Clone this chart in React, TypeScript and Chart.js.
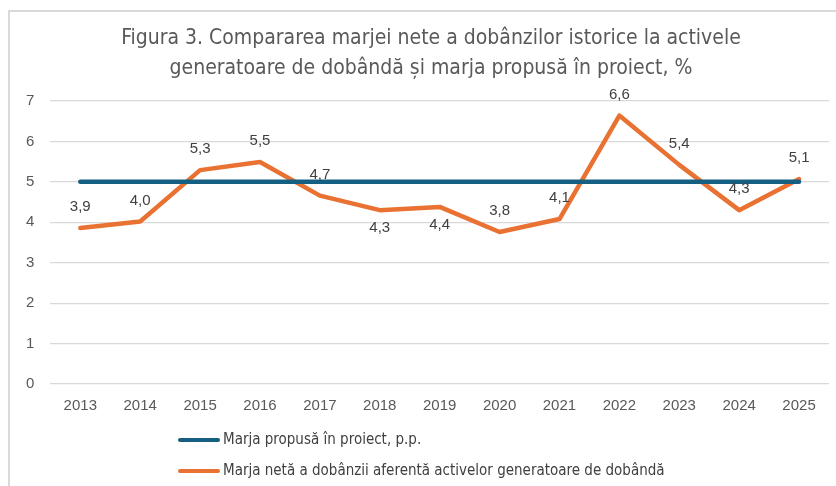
import React, { useEffect, useRef } from "react";
import { Chart, registerables } from "chart.js";

Chart.register(...registerables);

const years = ["2013", "2014", "2015", "2016", "2017", "2018", "2019", "2020", "2021", "2022", "2023", "2024", "2025"];
const proposedMargin = [5, 5, 5, 5, 5, 5, 5, 5, 5, 5, 5, 5, 5];
const netMargin = [3.86, 4.02, 5.29, 5.49, 4.66, 4.3, 4.38, 3.76, 4.08, 6.64, 5.42, 4.3, 5.07];
const labelBelow = [false, false, false, false, false, true, true, false, false, false, false, false, false];

const titleLines = [
  "Figura 3. Compararea marjei nete a dobânzilor istorice la activele",
  "generatoare de dobândă și marja propusă în proiect, %",
];
const seriesNames = [
  "Marja propusă în proiect, p.p.",
  "Marja netă a dobânzii aferentă activelor generatoare de dobândă",
];

const BLUE = "#156082";
const ORANGE = "#E97132";
const NARROW = "'Liberation Sans Narrow', 'DejaVu Sans Condensed', 'Liberation Sans', sans-serif";
const SANS = "'Liberation Sans', Arial, sans-serif";

const framePlugin = {
  id: "frame",
  beforeDraw(chart: any) {
    const ctx = chart.ctx;
    ctx.save();
    ctx.fillStyle = "#ffffff";
    ctx.fillRect(0, 0, chart.width, chart.height);
    ctx.strokeStyle = "#D9D9D9";
    ctx.lineWidth = 2;
    ctx.beginPath();
    ctx.moveTo(9, chart.height);
    ctx.lineTo(9, 11);
    ctx.lineTo(chart.width, 11);
    ctx.stroke();
    ctx.restore();
  },
};

const titlePlugin = {
  id: "customTitle",
  afterDraw(chart: any) {
    const ctx = chart.ctx;
    ctx.save();
    ctx.font = `21px ${NARROW}`;
    ctx.fillStyle = "#595959";
    ctx.textAlign = "center";
    ctx.textBaseline = "middle";
    titleLines.forEach((line, i) => {
      ctx.fillText(line, 431, 39 + i * 30);
    });
    ctx.restore();
  },
};

const labelsPlugin = {
  id: "pointLabels",
  afterDatasetsDraw(chart: any) {
    const ctx = chart.ctx;
    const meta = chart.getDatasetMeta(1);
    const data = chart.data.datasets[1].data as number[];
    ctx.save();
    ctx.font = `15px ${SANS}`;
    ctx.fillStyle = "#404040";
    ctx.textAlign = "center";
    ctx.textBaseline = "middle";
    meta.data.forEach((pt: any, i: number) => {
      const txt = data[i].toFixed(1).replace(".", ",");
      const y = labelBelow[i] ? pt.y + 18 : pt.y - 21;
      ctx.fillText(txt, pt.x, y);
    });
    ctx.restore();
  },
};

const legendPlugin = {
  id: "customLegend",
  afterDraw(chart: any) {
    const ctx = chart.ctx;
    ctx.save();
    chart.data.datasets.forEach((ds: any, i: number) => {
      const y = 440 + i * 31;
      ctx.strokeStyle = ds.borderColor;
      ctx.lineWidth = 4;
      ctx.lineCap = "round";
      ctx.beginPath();
      ctx.moveTo(180, y);
      ctx.lineTo(218, y);
      ctx.stroke();
      ctx.font = `15px ${NARROW}`;
      ctx.fillStyle = "#404040";
      ctx.textAlign = "left";
      ctx.textBaseline = "middle";
      ctx.fillText(ds.label, 223, y);
    });
    ctx.restore();
  },
};

export default function App() {
  const ref = useRef<HTMLCanvasElement>(null);
  useEffect(() => {
    if (!ref.current) return;
    const chart = new Chart(ref.current, {
      type: "line",
      data: {
        labels: years,
        datasets: [
          {
            label: seriesNames[0],
            data: proposedMargin,
            borderColor: BLUE,
            backgroundColor: BLUE,
            borderWidth: 4.5,
            pointRadius: 0,
            borderCapStyle: "round",
            tension: 0,
          },
          {
            label: seriesNames[1],
            data: netMargin,
            borderColor: ORANGE,
            backgroundColor: ORANGE,
            borderWidth: 4.5,
            pointRadius: 0,
            borderJoinStyle: "round",
            borderCapStyle: "round",
            tension: 0,
          },
        ],
      },
      options: {
        responsive: false,
        animation: false,
        layout: { padding: { left: 10, right: 7, top: 101, bottom: 66 } },
        plugins: {
          legend: { display: false },
          tooltip: { enabled: false },
          title: { display: false },
        },
        scales: {
          x: {
            offset: true,
            grid: { display: false },
            border: { display: false },
            ticks: { color: "#595959", font: { family: SANS, size: 15 }, padding: 5, maxRotation: 0 },
          },
          y: {
            min: 0,
            max: 7,
            ticks: { stepSize: 1, color: "#595959", font: { family: SANS, size: 15 }, padding: 16 },
            grid: { color: "#D9D9D9", lineWidth: 1.2, drawTicks: false },
            border: { display: false },
          },
        },
      },
      plugins: [framePlugin, titlePlugin, labelsPlugin, legendPlugin],
    });
    return () => chart.destroy();
  }, []);
  return (
    <div style={{ position: "absolute", left: 0, top: 0, width: 836, height: 486 }}>
      <canvas ref={ref} width={836} height={486} style={{ display: "block" }} />
    </div>
  );
}
